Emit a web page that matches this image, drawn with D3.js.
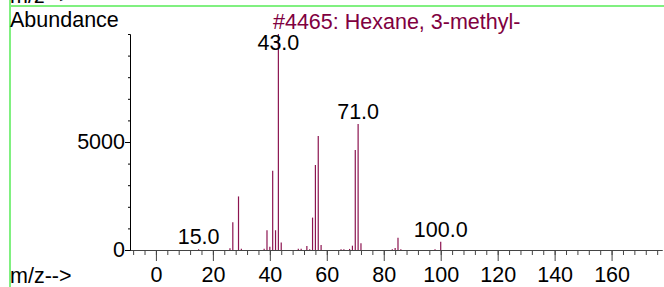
<!DOCTYPE html>
<html>
<head>
<meta charset="utf-8">
<script src="https://cdn.jsdelivr.net/npm/d3@7"></script>
<style>
body{margin:0;background:#fff;}
svg{display:block;font-family:"Liberation Sans",Arial,sans-serif;}
</style>
</head>
<body>
<svg></svg>
<script>
// spectrum
var mz = [15,26,27,29,30,38,39,40,41,42,43,44,50,51,53,54,55,56,57,58,65,66,68,69,70,71,72,83,84,85,86,98,100];
var abundance = [30,80,1290,2480,60,60,915,150,3670,915,9999,345,60,60,190,40,1500,3935,5280,230,30,30,50,200,4630,5830,310,40,90,570,30,40,385];
var labelled = [15,43,71,100];
var yMajor = [0,5000];
var yMinor = [0,1000,2000,3000,4000,5000,6000,7000,8000,9000,10000];
var xMajor = [0,20,40,60,80,100,120,140,160];
var xMinor = d3.range(-8,177,4);
var title = "#4465: Hexane, 3-methyl-";

var screen = {width:664,height:287};
var peakColor = "#8c1450";
var fs = 21.5;

var svg = d3.select("svg")
    .attr("width",screen.width)
    .attr("height",screen.height);

var xScale = d3.scaleLinear().domain([-9.1,177.7]).range([130,662]);
var yScale = d3.scaleLinear().domain([0,10000]).range([250,34]);

var makeTranslateString=function(x,y)
{
    return "translate("+x+","+y+")";
}

// green frame
svg.append("line").attr("x1",9).attr("x2",664).attr("y1",6).attr("y2",6)
    .attr("stroke","#80f080").attr("stroke-width",2);
svg.append("line").attr("x1",10).attr("x2",10).attr("y1",0).attr("y2",287)
    .attr("stroke","#80f080").attr("stroke-width",2);

svg.append("text").attr("x",10).attr("y",3).attr("font-size",fs).text("m/z-->");
svg.append("text").attr("x",10).attr("y",27).attr("font-size",fs).text("Abundance");
svg.append("text").attr("x",273).attr("y",29).attr("font-size",fs)
    .attr("fill","#800040").text(title);
svg.append("text").attr("x",10).attr("y",283).attr("font-size",fs).text("m/z-->");

// x axis
var xMinorAxis = d3.axisBottom(xScale).tickValues(xMinor).tickSize(5).tickSizeOuter(0).tickFormat("");
var xMajorAxis = d3.axisBottom(xScale).tickValues(xMajor).tickSize(11).tickSizeOuter(0).tickPadding(6);

var gx = svg.append("g").attr("transform",makeTranslateString(0,250));
gx.append("g").call(xMinorAxis);
gx.append("g").call(xMajorAxis);
gx.selectAll("path,line").attr("stroke","#444");
gx.selectAll("text").attr("font-size",fs).attr("font-family",null).attr("fill","#000");

// y axis
var yMinorAxis = d3.axisLeft(yScale).tickValues(yMinor).tickSize(2).tickSizeOuter(0).tickFormat("");
var yMajorAxis = d3.axisLeft(yScale).tickValues(yMajor).tickSize(5).tickSizeOuter(0).tickPadding(0)
    .tickFormat(d3.format("d"));

var gy = svg.append("g").attr("transform",makeTranslateString(130,0));
gy.append("g").call(yMinorAxis);
gy.append("g").call(yMajorAxis);
gy.selectAll("path,line").attr("stroke","#000");
gy.selectAll("text").attr("font-size",fs).attr("font-family",null).attr("fill","#000");

// peaks
var peaks = mz.map(function(m,i){return {mz:m,ab:abundance[i]};});

svg.append("g").selectAll("line")
    .data(peaks)
    .enter()
    .append("line")
    .attr("x1",function(d){return xScale(d.mz);})
    .attr("x2",function(d){return xScale(d.mz);})
    .attr("y1",yScale(0))
    .attr("y2",function(d){return yScale(d.ab);})
    .attr("stroke",peakColor)
    .attr("stroke-width",1.2);

svg.append("g").selectAll("text")
    .data(peaks.filter(function(d){return labelled.indexOf(d.mz)>=0;}))
    .enter()
    .append("text")
    .attr("x",function(d){return xScale(d.mz);})
    .attr("y",function(d){return Math.max(yScale(d.ab)-5,50);})
    .attr("text-anchor","middle")
    .attr("font-size",fs)
    .text(function(d){return d.mz.toFixed(1);});
</script>
</body>
</html>
